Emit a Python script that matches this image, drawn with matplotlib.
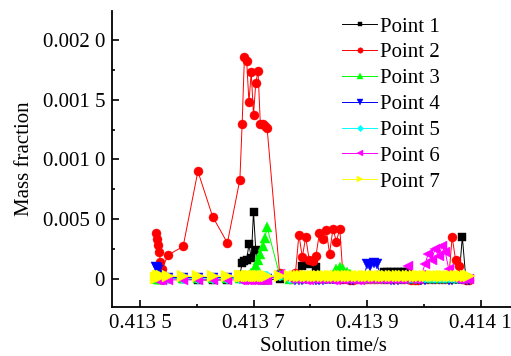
import matplotlib
matplotlib.use("Agg")
import matplotlib.pyplot as plt
from matplotlib import font_manager
from matplotlib.ticker import FixedLocator, MultipleLocator
import numpy as np

_have = {f.name for f in font_manager.fontManager.ttflist}
_serif = [n for n in ["Liberation Serif", "Times New Roman", "Nimbus Roman", "DejaVu Serif"] if n in _have]
plt.rcParams["font.family"] = "serif"
plt.rcParams["font.serif"] = _serif

# ── Data ─────────────────────────────────────────────────────────────
# solution time (s), shared by all monitor points
time = [
    0.413528, 0.413530, 0.413532, 0.413534, 0.413536, 0.413538, 0.413550, 0.413576, 0.413602, 0.413628, 0.413654,
    0.413676, 0.413680, 0.413684, 0.413688, 0.413692, 0.413696, 0.413700, 0.413704, 0.413708, 0.413712, 0.413716, 0.413720, 0.413724,
    0.413746, 0.413764,
    0.413774, 0.413780, 0.413786, 0.413792, 0.413798, 0.413804, 0.413810, 0.413816, 0.413822, 0.413828,
    0.413834, 0.413840, 0.413846, 0.413852, 0.413858, 0.413864, 0.413870, 0.413876, 0.413882, 0.413888,
    0.413894, 0.413900, 0.413906, 0.413912, 0.413918, 0.413924, 0.413930, 0.413936, 0.413942, 0.413948,
    0.413954, 0.413960, 0.413966, 0.413972, 0.413978, 0.413984, 0.413990, 0.413996, 0.414002, 0.414008,
    0.414014, 0.414020, 0.414026, 0.414032, 0.414038, 0.414044, 0.414050, 0.414056, 0.414062, 0.414068,
    0.414074, 0.414080,
]

# mass fraction, in units of 1e-5
UNIT = 1e-5
point_1 = [
    1, 0, 0, 0, 0, 0, 0, 0, -1, -1, -1,
    3, 13, 15, 16, 29, 17, 56, 24, 0, -1, -1, -1, -1,
    0, 0,
    0, 1, 11, 13, 12, 13, 10, 1, 0, 0,
    0, 0, 0, 0, 0, 0, 0, 0, 0, 0,
    0, 0, 0, 0, 0, 0, 6, 6, 6, 6,
    6, 6, 6, 6, 0, 0, 0, 0, 0, 0,
    0, 0, 0, 0, 0, 0, 0, 0, 0, 35,
    1, 0,
]
point_2 = [
    38, 33, 28, 22, 14, 8, 20, 27, 90, 52, 30,
    83, 130, 186, 182, 148, 173, 137, 164, 174, 130, 130, 128, 126,
    5, 0,
    5, 37, 18, 35, 16, 15, 19, 38, 33, 41,
    21, 42, 31, 42, 0, 0, -1, -1, 0, 0,
    0, 0, 0, 0, 0, 0, 0, 0, 0, 0,
    0, 0, 0, 0, -1, -1, -1, 0, 0, 0,
    0, 0, 0, 0, 0, 0, 35, 16, 11, 0,
    -1, -1,
]
point_3 = [
    1, 1, 0, 0, 0, 0, 1, 1, 1, 1, 1,
    1, 1, 2, 2, 3, 5, 8, 11, 16, 21, 27, 34, 43,
    3, 0,
    1, 1, 1, 1, 1, 1, 1, 1, 1, 1,
    1, 3, 8, 10, 8, 6, 4, 1, 1, 1,
    1, 1, 1, 1, 1, 1, 1, 1, 1, 1,
    1, 1, 1, 1, 1, 1, 1, 1, 1, 1,
    1, 1, 1, 1, 1, 1, 1, 1, 1, 1,
    1, 1,
]
point_4 = [
    10, 9, 7, 3, 1, 0, 1, 1, 1, 1, 1,
    0, 0, 0, 0, 0, 0, 0, 0, 0, 0, 0, 0, 0,
    2, 0,
    -1, -1, -1, 0, 0, 0, -1, -1, -1, 0,
    0, 0, 0, 0, 0, 0, -1, -1, 0, 0,
    0, 12, 11, 13, 12, 2, 0, 0, -1, -1,
    -1, 0, 0, 0, 0, 0, 0, -1, -1, 0,
    0, 0, 0, 0, 0, -1, -1, 0, 0, 0,
    -1, -1,
]
point_5 = [
    2, 2, 1, 1, 0, 0, 0, 0, 0, 0, 0,
    0, 0, 0, 0, 1, 2, 3, 3, 3, 3, 2, 2, 2,
    2, 0,
    1, 1, 1, 1, 1, 1, 1, 1, 1, 1,
    1, 1, 1, 1, 1, 1, 1, 1, 1, 1,
    1, 1, 1, 1, 1, 1, 1, 1, 1, 1,
    1, 1, 1, 1, 1, 1, 1, 1, 1, 1,
    1, 1, 1, 1, 1, 1, 1, 1, 1, 1,
    1, 1,
]
point_6 = [
    0, -1, -1, -1, -1, -1, -1, -1, -1, -1, -1,
    -1, -1, -1, -1, -1, -1, -1, -1, -1, -1, -1, -1, -1,
    4, 0,
    0, 0, 0, -1, -1, 0, 0, 0, 0, 0,
    0, -1, -1, 0, 0, 0, 0, 0, -1, -1,
    0, 0, 0, 0, 0, 0, 0, 0, 0, 0,
    0, 0, 0, 11, 0, 0, 0, 3, 12, 21,
    16, 25, 19, 27, 22, 8, 2, 0, 0, 0,
    0, 0,
]
point_7 = [
    1, 1, 2, 2, 2, 2, 2, 2, 2, 2, 2,
    2, 2, 2, 2, 2, 2, 2, 2, 2, 2, 2, 2, 2,
    2, 2,
    2, 2, 2, 2, 2, 2, 2, 2, 2, 2,
    2, 2, 2, 2, 2, 2, 2, 2, 2, 2,
    2, 2, 2, 2, 2, 2, 2, 2, 2, 2,
    2, 2, 2, 2, 2, 2, 2, 2, 2, 2,
    2, 2, 2, 2, 2, 2, 2, 2, 2, 2,
    2, 2,
]

labels  = ["Point 1", "Point 2", "Point 3", "Point 4", "Point 5", "Point 6", "Point 7"]
series  = [point_1, point_2, point_3, point_4, point_5, point_6, point_7]
colors  = ["#000000", "#ff0000", "#00ff00", "#0000ff", "#00ffff", "#ff00ff", "#ffff00"]
markers = ["s", "o", "^", "v", "D", "<", ">"]
msizes  = [6, 6.5, 7, 7, 5.5, 7, 8]

x_ticks       = [0.4135, 0.4137, 0.4139, 0.4141]
x_tick_labels = ["0.413 5", "0.413 7", "0.413 9", "0.414 1"]
y_ticks       = [0, 0.0005, 0.0010, 0.0015, 0.0020]
y_tick_labels = ["0", "0.005 0", "0.001 0", "0.001 5", "0.002 0"]

# ── Figure ───────────────────────────────────────────────────────────
fig = plt.figure(figsize=(5.11, 3.56), dpi=100)
ax = fig.add_axes([112 / 511, 49 / 356, 422 / 511, 296 / 356])

t = np.array(time)
for vals, lab, col, mk, ms in zip(series, labels, colors, markers, msizes):
    ax.plot(t, np.array(vals) * UNIT, "-", color=col, linewidth=0.7,
            marker=mk, markersize=ms, markerfacecolor=col,
            markeredgecolor=col, markeredgewidth=0.3, label=lab)

ax.set_xlim(0.41345066, 0.41419427)
ax.set_ylim(-0.000237, 0.002243)

ax.xaxis.set_major_locator(FixedLocator(x_ticks))
ax.set_xticklabels(x_tick_labels)
ax.xaxis.set_minor_locator(MultipleLocator(0.0001))
ax.yaxis.set_major_locator(FixedLocator(y_ticks))
ax.set_yticklabels(y_tick_labels)
ax.yaxis.set_minor_locator(MultipleLocator(0.00025))

ax.spines[["top", "right"]].set_visible(False)
for s in ["left", "bottom"]:
    ax.spines[s].set_linewidth(1.3)
ax.tick_params(which="both", direction="in", width=1.2, labelsize=15)
ax.tick_params(which="major", length=5, pad=5)
ax.tick_params(which="minor", length=2.5)

ax.set_xlabel("Solution time/s", fontsize=15, labelpad=3)
ax.set_ylabel("Mass fraction", fontsize=15, labelpad=6)

ax.legend(loc="upper left", bbox_to_anchor=(342 / 511, 339 / 356),
          bbox_transform=fig.transFigure, frameon=False, fontsize=15,
          borderpad=0, borderaxespad=0, handlelength=1.7, handletextpad=0.12,
          labelspacing=0.3, markerscale=0.6)

fig.savefig("out.png", dpi=100, facecolor="white")
